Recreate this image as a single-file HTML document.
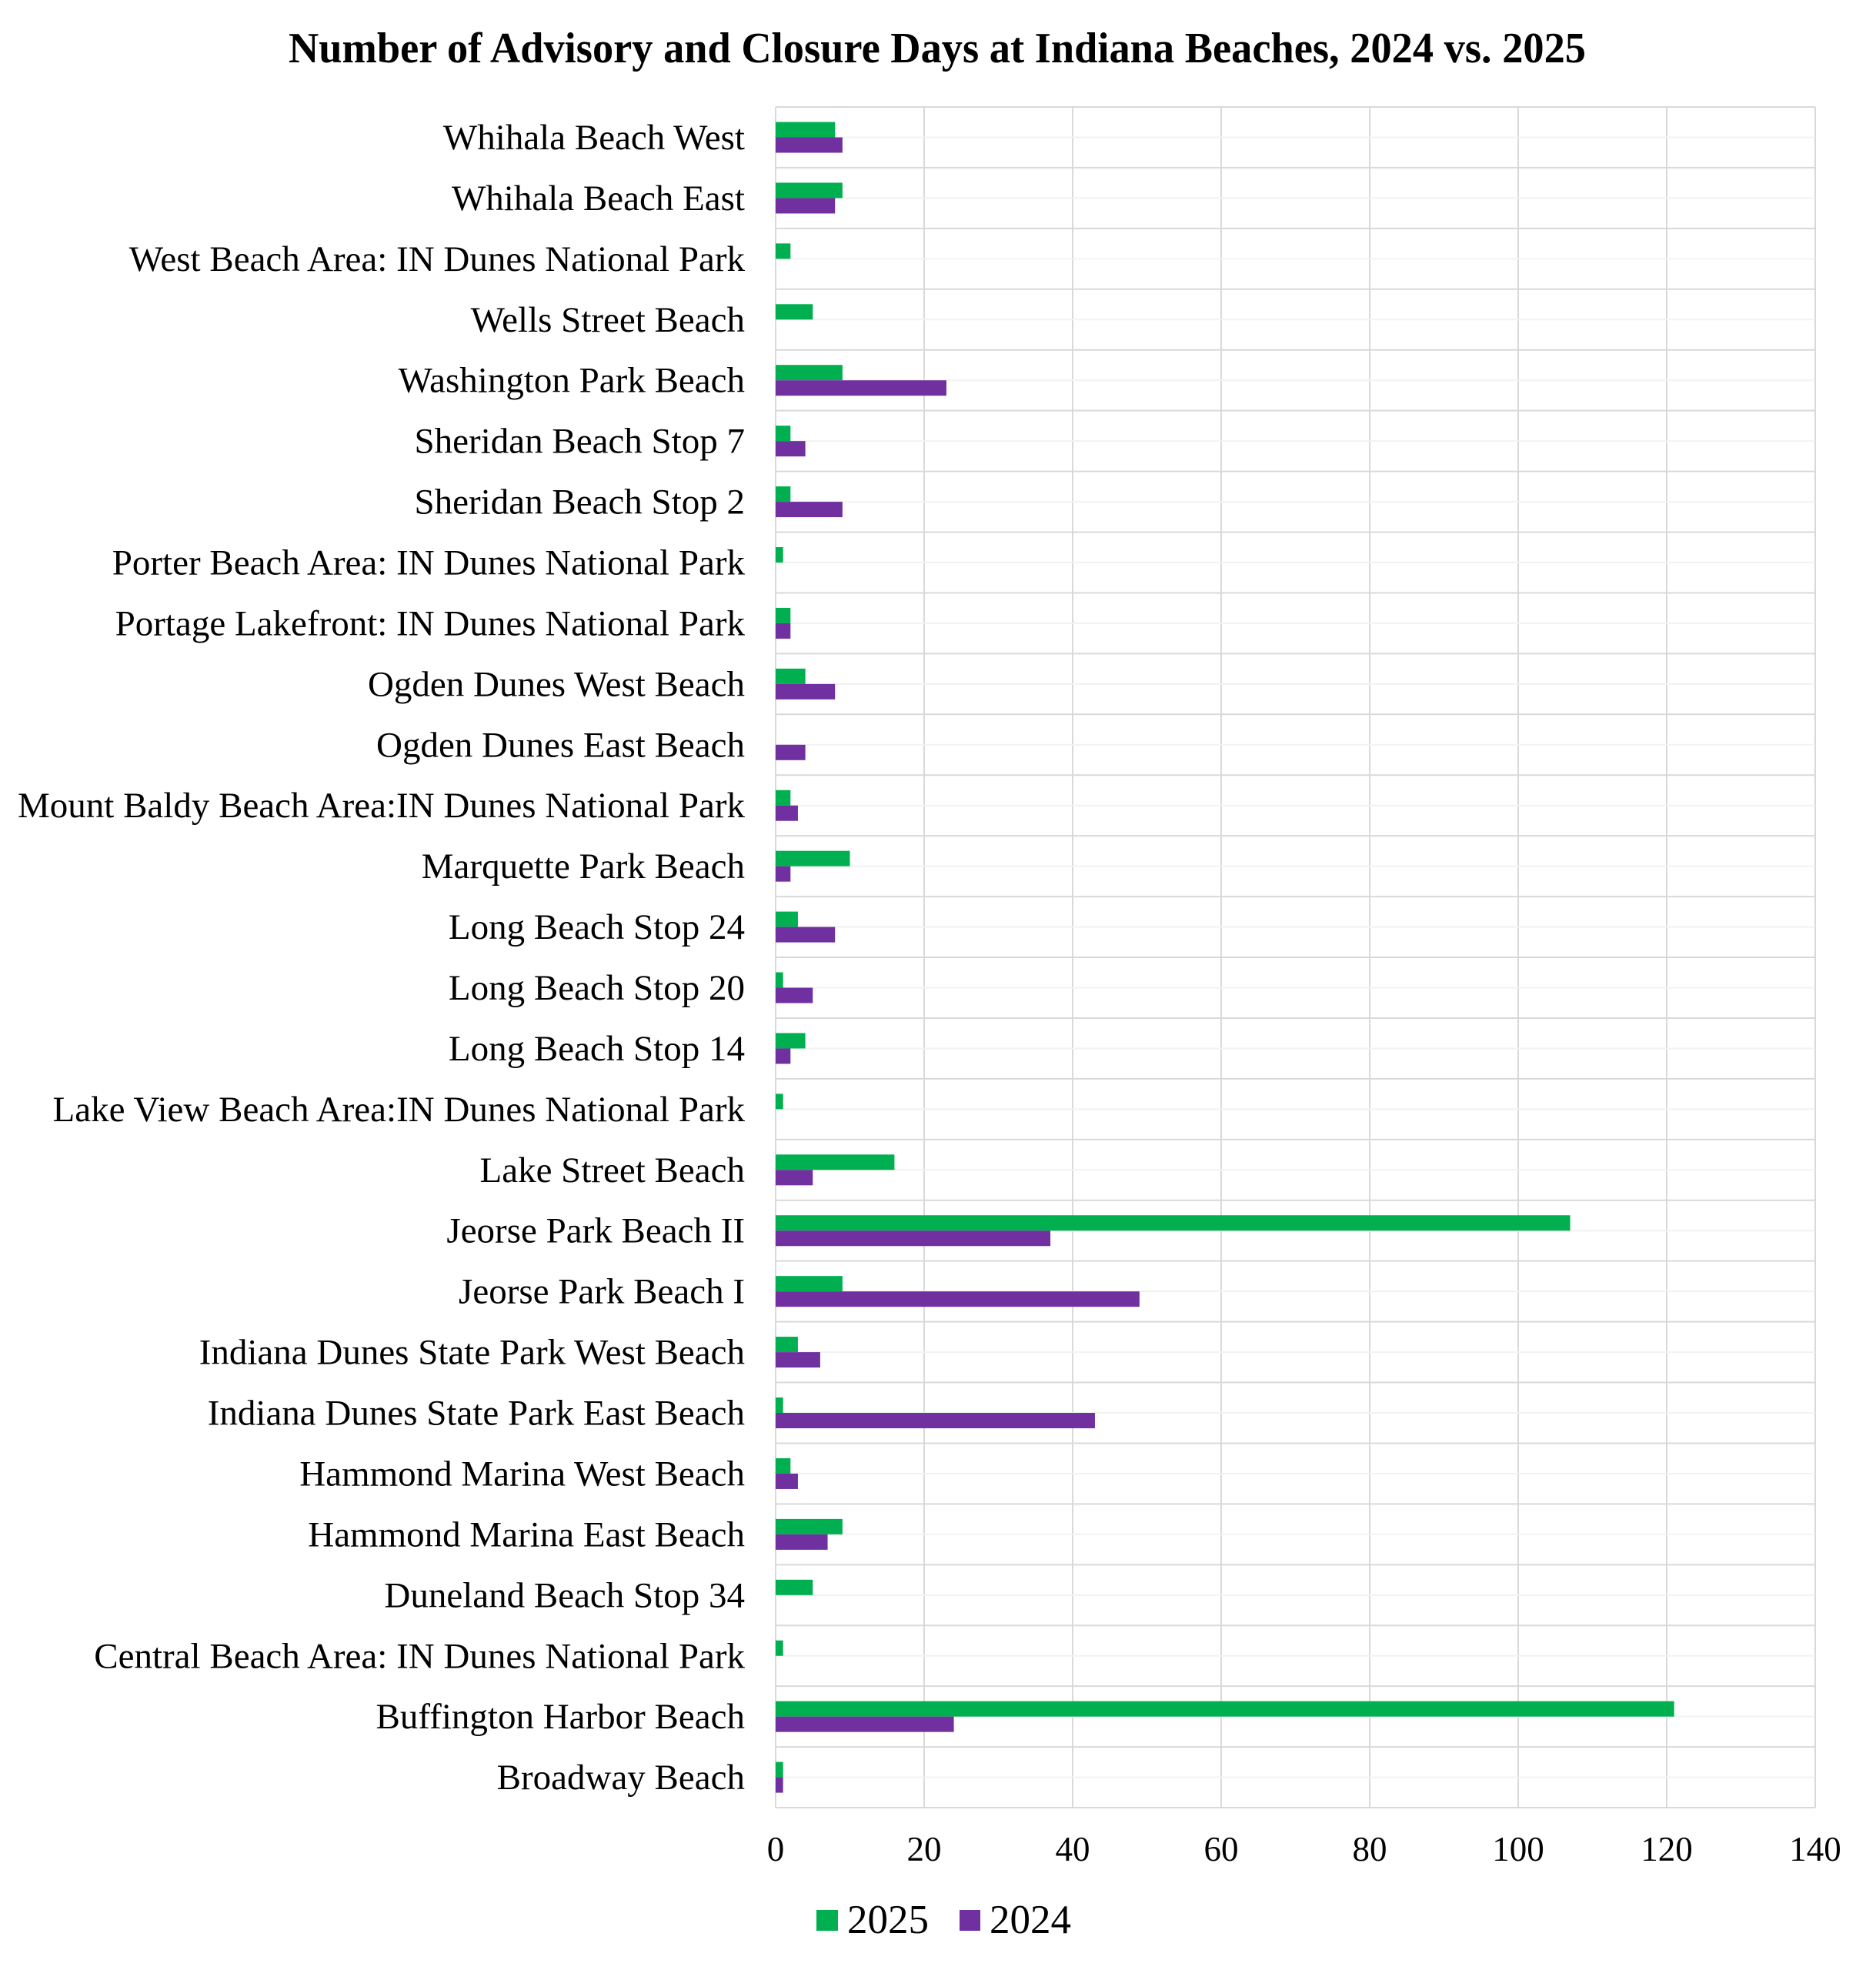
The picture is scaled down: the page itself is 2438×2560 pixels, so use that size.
<!DOCTYPE html>
<html><head><meta charset="utf-8"><style>
html,body{margin:0;padding:0;background:#fff;}
svg{display:block;}
text{font-family:"Liberation Serif","Times New Roman",serif;fill:#000;}
</style></head><body>
<svg width="2438" height="2560" viewBox="0 0 2438 2560" xmlns="http://www.w3.org/2000/svg">
<defs>
<g id="row">
<line x1="1008" x2="2359" y1="39.5" y2="39.5" stroke="#f1f2f2" stroke-width="2"/>
<line x1="1008" x2="2359" y1="0" y2="0" stroke="#d9d9d9" stroke-width="2"/>
</g>
</defs>
<rect width="2438" height="2560" fill="#fff"/>
<text x="1218" y="81" font-size="56" font-weight="bold" text-anchor="middle" textLength="1686" lengthAdjust="spacingAndGlyphs">Number of Advisory and Closure Days at Indiana Beaches, 2024 vs. 2025</text>

<g stroke="#d9d9d9" stroke-width="2">
<line x1="1008" x2="1008" y1="139" y2="2349"/>
<line x1="1201" x2="1201" y1="139" y2="2349"/>
<line x1="1394" x2="1394" y1="139" y2="2349"/>
<line x1="1587" x2="1587" y1="139" y2="2349"/>
<line x1="1780" x2="1780" y1="139" y2="2349"/>
<line x1="1973" x2="1973" y1="139" y2="2349"/>
<line x1="2166" x2="2166" y1="139" y2="2349"/>
<line x1="2359" x2="2359" y1="139" y2="2349"/>
<line x1="1008" x2="2359" y1="2349" y2="2349"/>
</g>

<g font-size="47" text-anchor="end">
<g transform="translate(0,139)"><use href="#row"/><rect x="1008" y="19.5" width="77.2" height="20" fill="#00b050"/><rect x="1008" y="39.5" width="86.85" height="20" fill="#7030a0"/><text x="968" y="55">Whihala Beach West</text></g>
<g transform="translate(0,217.93)"><use href="#row"/><rect x="1008" y="19.5" width="86.85" height="20" fill="#00b050"/><rect x="1008" y="39.5" width="77.2" height="20" fill="#7030a0"/><text x="968" y="55">Whihala Beach East</text></g>
<g transform="translate(0,296.86)"><use href="#row"/><rect x="1008" y="19.5" width="19.3" height="20" fill="#00b050"/><text x="968" y="55">West Beach Area: IN Dunes National Park</text></g>
<g transform="translate(0,375.79)"><use href="#row"/><rect x="1008" y="19.5" width="48.25" height="20" fill="#00b050"/><text x="968" y="55">Wells Street Beach</text></g>
<g transform="translate(0,454.72)"><use href="#row"/><rect x="1008" y="19.5" width="86.85" height="20" fill="#00b050"/><rect x="1008" y="39.5" width="221.95" height="20" fill="#7030a0"/><text x="968" y="55">Washington Park Beach</text></g>
<g transform="translate(0,533.65)"><use href="#row"/><rect x="1008" y="19.5" width="19.3" height="20" fill="#00b050"/><rect x="1008" y="39.5" width="38.6" height="20" fill="#7030a0"/><text x="968" y="55">Sheridan Beach Stop 7</text></g>
<g transform="translate(0,612.58)"><use href="#row"/><rect x="1008" y="19.5" width="19.3" height="20" fill="#00b050"/><rect x="1008" y="39.5" width="86.85" height="20" fill="#7030a0"/><text x="968" y="55">Sheridan Beach Stop 2</text></g>
<g transform="translate(0,691.51)"><use href="#row"/><rect x="1008" y="19.5" width="9.65" height="20" fill="#00b050"/><text x="968" y="55">Porter Beach Area: IN Dunes National Park</text></g>
<g transform="translate(0,770.44)"><use href="#row"/><rect x="1008" y="19.5" width="19.3" height="20" fill="#00b050"/><rect x="1008" y="39.5" width="19.3" height="20" fill="#7030a0"/><text x="968" y="55">Portage Lakefront: IN Dunes National Park</text></g>
<g transform="translate(0,849.37)"><use href="#row"/><rect x="1008" y="19.5" width="38.6" height="20" fill="#00b050"/><rect x="1008" y="39.5" width="77.2" height="20" fill="#7030a0"/><text x="968" y="55">Ogden Dunes West Beach</text></g>
<g transform="translate(0,928.3)"><use href="#row"/><rect x="1008" y="39.5" width="38.6" height="20" fill="#7030a0"/><text x="968" y="55">Ogden Dunes East Beach</text></g>
<g transform="translate(0,1007.23)"><use href="#row"/><rect x="1008" y="19.5" width="19.3" height="20" fill="#00b050"/><rect x="1008" y="39.5" width="28.95" height="20" fill="#7030a0"/><text x="968" y="55">Mount Baldy Beach Area:IN Dunes National Park</text></g>
<g transform="translate(0,1086.16)"><use href="#row"/><rect x="1008" y="19.5" width="96.5" height="20" fill="#00b050"/><rect x="1008" y="39.5" width="19.3" height="20" fill="#7030a0"/><text x="968" y="55">Marquette Park Beach</text></g>
<g transform="translate(0,1165.09)"><use href="#row"/><rect x="1008" y="19.5" width="28.95" height="20" fill="#00b050"/><rect x="1008" y="39.5" width="77.2" height="20" fill="#7030a0"/><text x="968" y="55">Long Beach Stop 24</text></g>
<g transform="translate(0,1244.02)"><use href="#row"/><rect x="1008" y="19.5" width="9.65" height="20" fill="#00b050"/><rect x="1008" y="39.5" width="48.25" height="20" fill="#7030a0"/><text x="968" y="55">Long Beach Stop 20</text></g>
<g transform="translate(0,1322.95)"><use href="#row"/><rect x="1008" y="19.5" width="38.6" height="20" fill="#00b050"/><rect x="1008" y="39.5" width="19.3" height="20" fill="#7030a0"/><text x="968" y="55">Long Beach Stop 14</text></g>
<g transform="translate(0,1401.88)"><use href="#row"/><rect x="1008" y="19.5" width="9.65" height="20" fill="#00b050"/><text x="968" y="55">Lake View Beach Area:IN Dunes National Park</text></g>
<g transform="translate(0,1480.81)"><use href="#row"/><rect x="1008" y="19.5" width="154.4" height="20" fill="#00b050"/><rect x="1008" y="39.5" width="48.25" height="20" fill="#7030a0"/><text x="968" y="55">Lake Street Beach</text></g>
<g transform="translate(0,1559.74)"><use href="#row"/><rect x="1008" y="19.5" width="1032.55" height="20" fill="#00b050"/><rect x="1008" y="39.5" width="357.05" height="20" fill="#7030a0"/><text x="968" y="55">Jeorse Park Beach II</text></g>
<g transform="translate(0,1638.67)"><use href="#row"/><rect x="1008" y="19.5" width="86.85" height="20" fill="#00b050"/><rect x="1008" y="39.5" width="472.85" height="20" fill="#7030a0"/><text x="968" y="55">Jeorse Park Beach I</text></g>
<g transform="translate(0,1717.6)"><use href="#row"/><rect x="1008" y="19.5" width="28.95" height="20" fill="#00b050"/><rect x="1008" y="39.5" width="57.9" height="20" fill="#7030a0"/><text x="968" y="55">Indiana Dunes State Park West Beach</text></g>
<g transform="translate(0,1796.53)"><use href="#row"/><rect x="1008" y="19.5" width="9.65" height="20" fill="#00b050"/><rect x="1008" y="39.5" width="414.95" height="20" fill="#7030a0"/><text x="968" y="55">Indiana Dunes State Park East Beach</text></g>
<g transform="translate(0,1875.46)"><use href="#row"/><rect x="1008" y="19.5" width="19.3" height="20" fill="#00b050"/><rect x="1008" y="39.5" width="28.95" height="20" fill="#7030a0"/><text x="968" y="55">Hammond Marina West Beach</text></g>
<g transform="translate(0,1954.39)"><use href="#row"/><rect x="1008" y="19.5" width="86.85" height="20" fill="#00b050"/><rect x="1008" y="39.5" width="67.55" height="20" fill="#7030a0"/><text x="968" y="55">Hammond Marina East Beach</text></g>
<g transform="translate(0,2033.32)"><use href="#row"/><rect x="1008" y="19.5" width="48.25" height="20" fill="#00b050"/><text x="968" y="55">Duneland Beach Stop 34</text></g>
<g transform="translate(0,2112.25)"><use href="#row"/><rect x="1008" y="19.5" width="9.65" height="20" fill="#00b050"/><text x="968" y="55">Central Beach Area: IN Dunes National Park</text></g>
<g transform="translate(0,2191.18)"><use href="#row"/><rect x="1008" y="19.5" width="1167.65" height="20" fill="#00b050"/><rect x="1008" y="39.5" width="231.6" height="20" fill="#7030a0"/><text x="968" y="55">Buffington Harbor Beach</text></g>
<g transform="translate(0,2270.11)"><use href="#row"/><rect x="1008" y="19.5" width="9.65" height="20" fill="#00b050"/><rect x="1008" y="39.5" width="9.65" height="20" fill="#7030a0"/><text x="968" y="55">Broadway Beach</text></g>
</g>

<g font-size="45" text-anchor="middle">
<text x="1008" y="2418">0</text>
<text x="1201" y="2418">20</text>
<text x="1394" y="2418">40</text>
<text x="1587" y="2418">60</text>
<text x="1780" y="2418">80</text>
<text x="1973" y="2418">100</text>
<text x="2166" y="2418">120</text>
<text x="2359" y="2418">140</text>
</g>

<rect x="1061" y="2482" width="28" height="27" fill="#00b050"/><text x="1101" y="2512" font-size="53">2025</text>
<rect x="1247" y="2482" width="27" height="27" fill="#7030a0"/><text x="1286" y="2512" font-size="53">2024</text>
</svg>
</body></html>
